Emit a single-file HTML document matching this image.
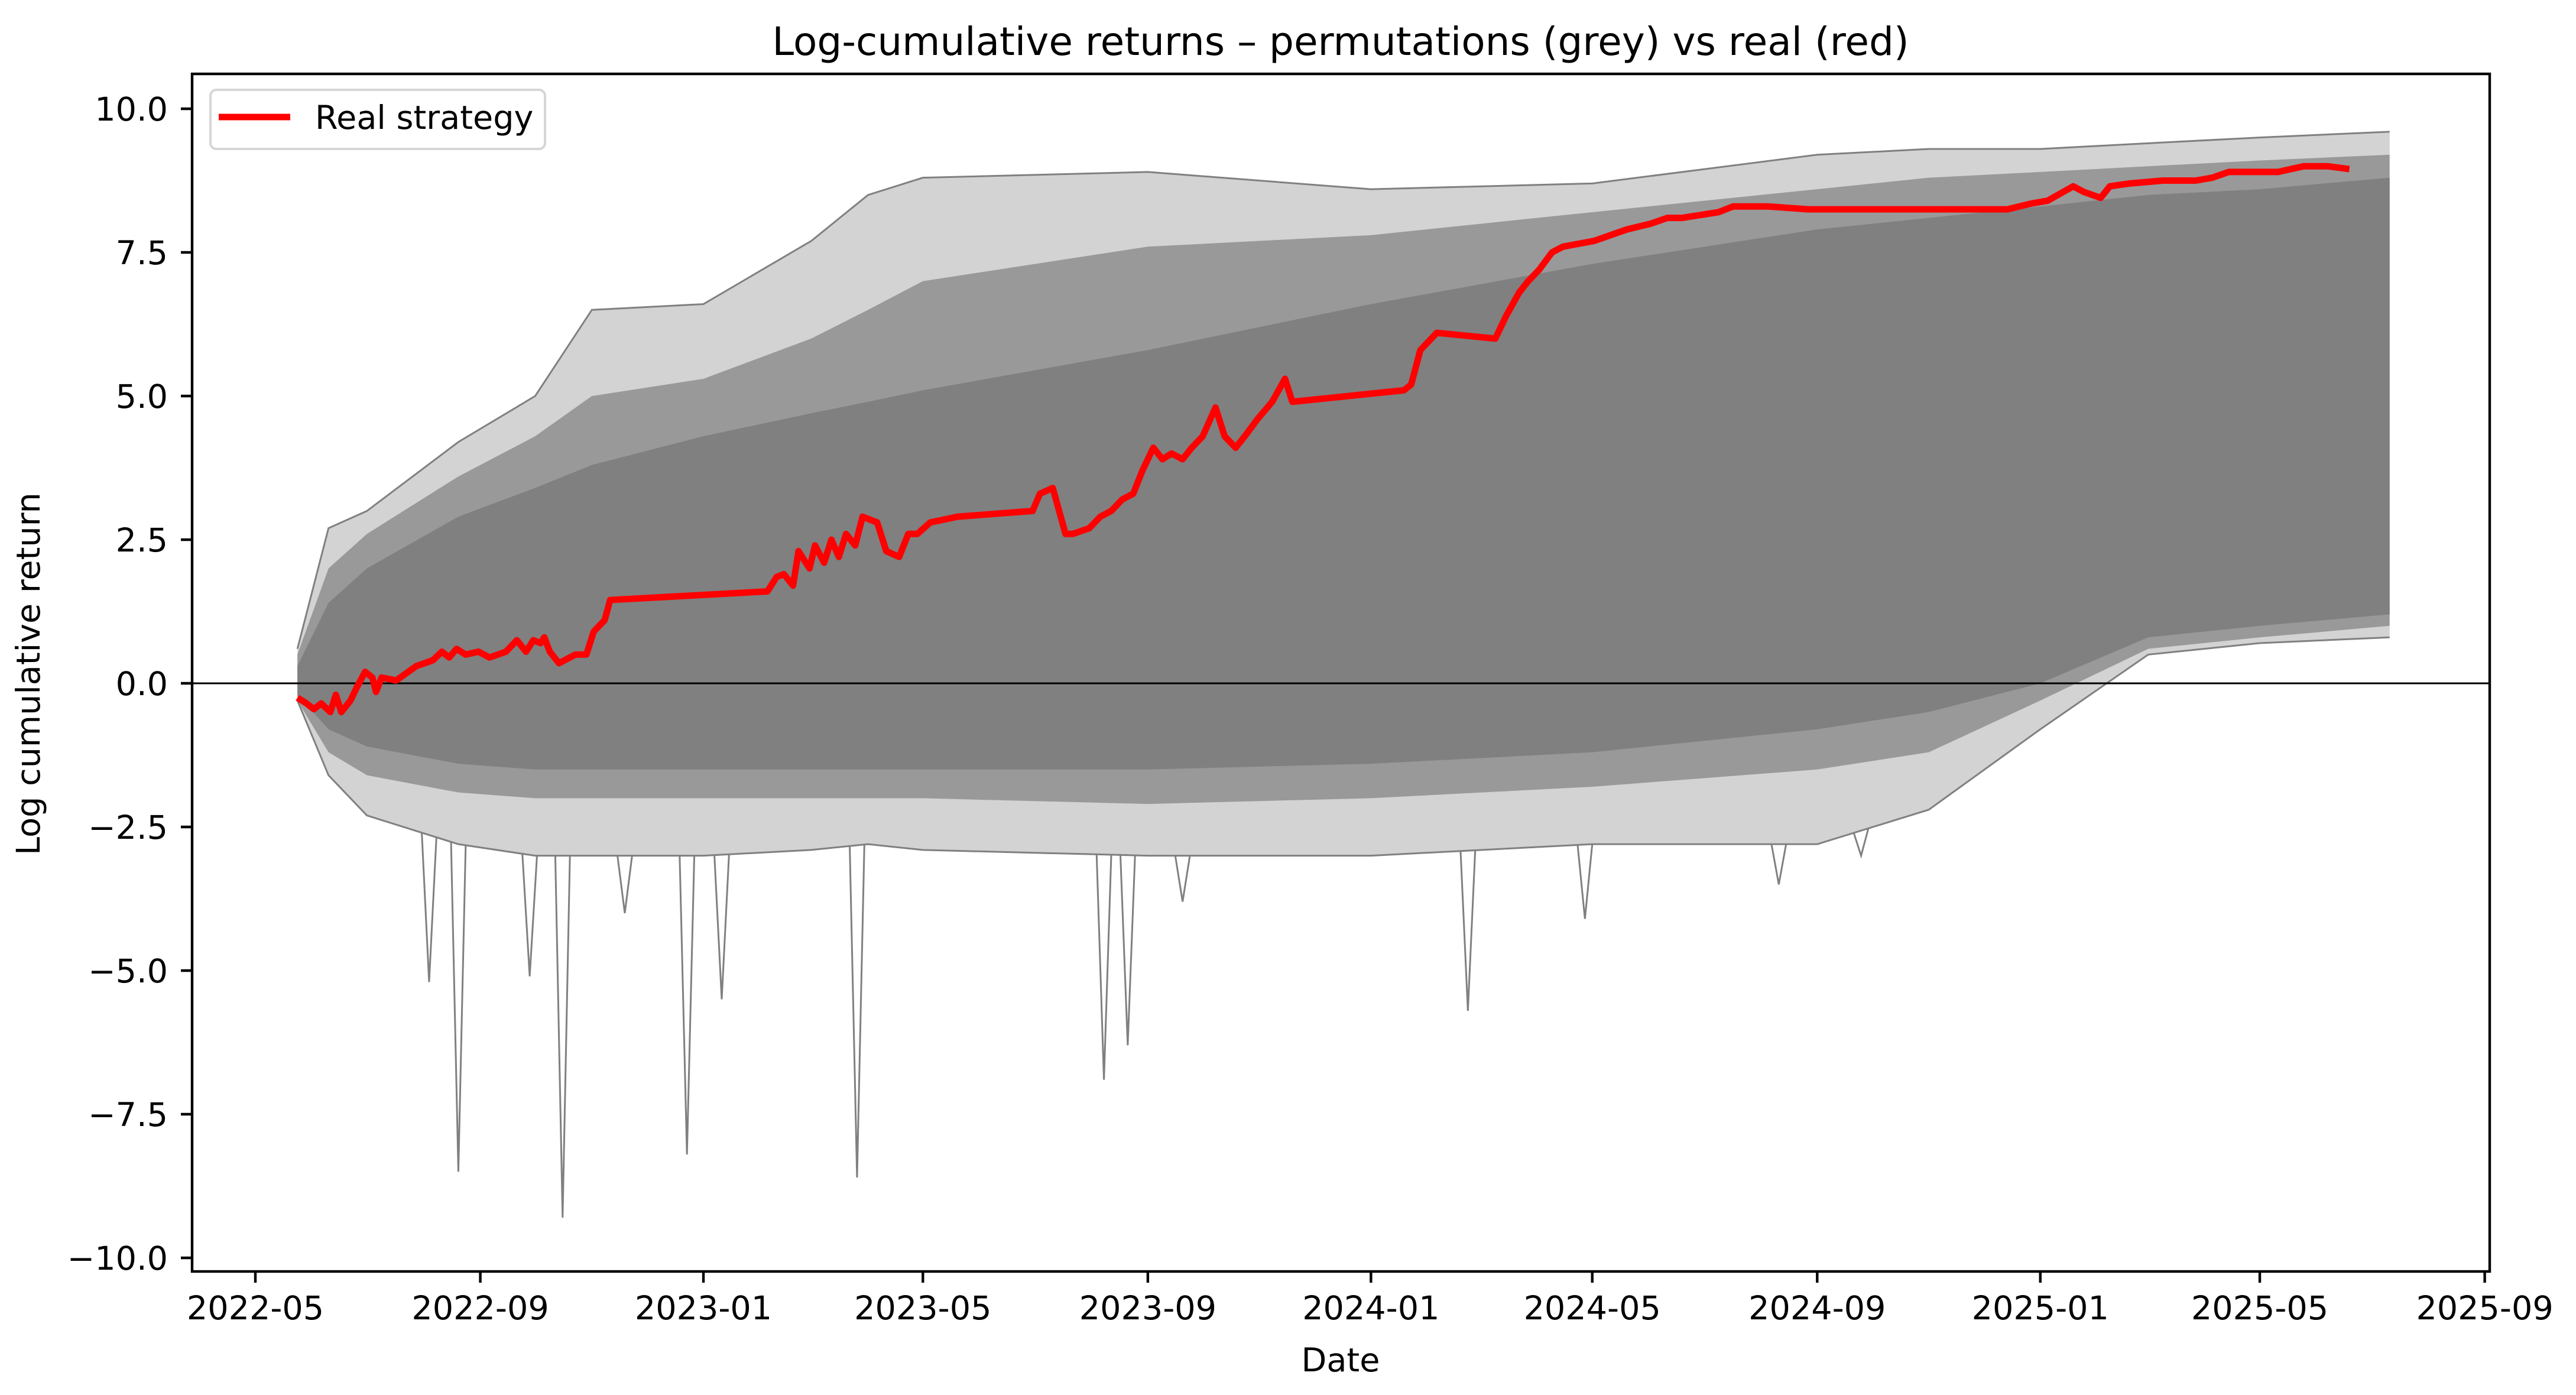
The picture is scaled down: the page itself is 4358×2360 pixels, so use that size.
<!DOCTYPE html>
<html><head><meta charset="utf-8"><style>
html,body{margin:0;padding:0;background:#fff;}
svg{display:block;font-family:"DejaVu Sans","Liberation Sans",sans-serif;}
</style></head><body>
<svg id="chart" width="4358" height="2360" viewBox="0 0 4358 2360" xmlns="http://www.w3.org/2000/svg">
<rect width="4358" height="2360" fill="#fff"/>
<text x="2268" y="93" font-size="66" text-anchor="middle">Log-cumulative returns – permutations (grey) vs real (red)</text>
<defs><clipPath id="clip"><rect x="325" y="125" width="3887" height="2026"/></clipPath></defs>
<g id="plot" clip-path="url(#clip)"></g>
<g id="axes"></g>
<text transform="translate(67,1140) rotate(-90)" font-size="55.6" text-anchor="middle">Log cumulative return</text>
<text x="2268" y="2320" font-size="55.6" text-anchor="middle">Date</text>
<g>
<rect x="356" y="152" width="566" height="100" rx="10" fill="#fff" fill-opacity="0.8" stroke="#d6d6d6" stroke-width="4"/>
<line x1="370" y1="198" x2="491" y2="198" stroke="#ff0000" stroke-width="11"/>
<text x="533" y="218" font-size="55.6">Real strategy</text>
</g>
</svg>
<script>
// ---- data ----
const envDays = [23,40,61,111,153,184,245,304,335,365,488,610,731,854,915,976,1035,1096,1167];
const outerUpper = [0.6,2.7,3.0,4.2,5.0,6.5,6.6,7.7,8.5,8.8,8.9,8.6,8.7,9.2,9.3,9.3,9.4,9.5,9.6];
const midUpper = [0.5,2.0,2.6,3.6,4.3,5.0,5.3,6.0,6.5,7.0,7.6,7.8,8.2,8.6,8.8,8.9,9.0,9.1,9.2];
const coreUpper = [0.3,1.4,2.0,2.9,3.4,3.8,4.3,4.7,4.9,5.1,5.8,6.6,7.3,7.9,8.1,8.3,8.5,8.6,8.8];
const coreLower = [-0.2,-0.8,-1.1,-1.4,-1.5,-1.5,-1.5,-1.5,-1.5,-1.5,-1.5,-1.4,-1.2,-0.8,-0.5,0.0,0.8,1.0,1.2];
const midLower = [-0.3,-1.2,-1.6,-1.9,-2.0,-2.0,-2.0,-2.0,-2.0,-2.0,-2.1,-2.0,-1.8,-1.5,-1.2,-0.3,0.6,0.8,1.0];
const outerLower = [-0.3,-1.6,-2.3,-2.8,-3.0,-3.0,-3.0,-2.9,-2.8,-2.9,-3.0,-3.0,-2.8,-2.8,-2.2,-0.8,0.5,0.7,0.8];
const spikeDays = [95,111,150,168,202,236,255,329,464,477,507,663,727,833,878];
const spikeValues = [-5.2,-8.5,-5.1,-9.3,-4.0,-8.2,-5.5,-8.6,-6.9,-6.3,-3.8,-5.7,-4.1,-3.5,-3.0];
const redDays = [23,28,32,36,41,44,47,52,55,60,64,66,69,77,88,97,102,106,110,115,122,128,137,143,148,152,156,158,161,166,175,181,185,191,194,280,285,289,294,297,303,306,311,315,319,323,328,332,340,345,352,357,362,369,384,425,429,436,443,447,456,462,468,474,480,485,491,496,501,507,512,518,525,530,536,541,548,556,563,567,628,632,637,646,678,684,691,696,702,709,715,732,750,763,772,780,800,808,817,827,849,926,958,971,980,994,1000,1009,1014,1025,1043,1061,1070,1079,1106,1120,1133,1145];
const redValues = [-0.25,-0.35,-0.45,-0.35,-0.5,-0.2,-0.5,-0.3,-0.1,0.2,0.1,-0.15,0.1,0.05,0.3,0.4,0.55,0.45,0.6,0.5,0.55,0.45,0.55,0.75,0.55,0.75,0.7,0.8,0.55,0.35,0.5,0.5,0.9,1.1,1.45,1.6,1.85,1.9,1.7,2.3,2.0,2.4,2.1,2.5,2.2,2.6,2.4,2.9,2.8,2.3,2.2,2.6,2.6,2.8,2.9,3.0,3.3,3.4,2.6,2.6,2.7,2.9,3.0,3.2,3.3,3.7,4.1,3.9,4.0,3.9,4.1,4.3,4.8,4.3,4.1,4.3,4.6,4.9,5.3,4.9,5.1,5.2,5.8,6.1,6.0,6.4,6.8,7.0,7.2,7.5,7.6,7.7,7.9,8.0,8.1,8.1,8.2,8.3,8.3,8.3,8.25,8.25,8.25,8.35,8.4,8.65,8.55,8.45,8.65,8.7,8.75,8.75,8.8,8.9,8.9,9.0,9.0,8.95];
const yTicks = [-10,-7.5,-5,-2.5,0,2.5,5,7.5,10];
const xTickLabels = ["2022-05","2022-09","2023-01","2023-05","2023-09","2024-01","2024-05","2024-09","2025-01","2025-05","2025-09"];

// ---- scales ----
const X0 = 432, PXDAY = 3.094, Y0 = 1156, PXUNIT = 97.2;
const base = Date.UTC(2022,4,1);
function xs(day){return X0 + day*PXDAY;}
function ys(v){return Y0 - v*PXUNIT;}
function dayOf(lbl){const [y,m]=lbl.split('-').map(Number);return (Date.UTC(y,m-1,1)-base)/86400000;}
function interp(d,arr){for(let i=0;i<envDays.length-1;i++){if(d<=envDays[i+1]){const t=(d-envDays[i])/(envDays[i+1]-envDays[i]);return arr[i]+t*(arr[i+1]-arr[i]);}}return arr[arr.length-1];}
const NS="http://www.w3.org/2000/svg";
const plot=document.getElementById('plot'), axes=document.getElementById('axes');
function mk(tag,attrs,parent){const e=document.createElementNS(NS,tag);for(const k in attrs)e.setAttribute(k,attrs[k]);parent.appendChild(e);return e;}
function band(up,lo){let p=envDays.map((d,i)=>xs(d)+','+ys(up[i]));for(let i=envDays.length-1;i>=0;i--)p.push(xs(envDays[i])+','+ys(lo[i]));return p.join(' ');}

const outer=mk('polygon',{points:band(outerUpper,outerLower),fill:'#808080','fill-opacity':'0.35'},plot);


const mid=mk('polygon',{points:band(midUpper,midLower),fill:'#808080','fill-opacity':'0.7'},plot);


const core=mk('polygon',{points:band(coreUpper,coreLower),fill:'#808080'},plot);


[outerUpper,outerLower].forEach((arr,k)=>{
  const l=mk('polyline',{points:envDays.map((d,i)=>xs(d)+','+ys(arr[i])).join(' '),fill:'none',stroke:'#808080','stroke-width':3},plot);
  
  
});
spikeDays.forEach((d,i)=>{
  const b1=interp(d-4,outerLower), b2=interp(d+4,outerLower);
  const s=mk('polyline',{points:xs(d-4)+','+ys(b1)+' '+xs(d)+','+ys(spikeValues[i])+' '+xs(d+4)+','+ys(b2),fill:'none',stroke:'#808080','stroke-width':3},plot);
  
  
});
const zl=mk('line',{x1:325,x2:4212,y1:ys(0),y2:ys(0),stroke:'#000','stroke-width':3},plot);


const red=mk('polyline',{points:redDays.map((d,i)=>xs(d)+','+ys(redValues[i])).join(' '),fill:'none',stroke:'#ff0000','stroke-width':11,'stroke-linejoin':'round'},plot);



// axes
const frame=mk('rect',{x:325,y:125,width:3887,height:2026,fill:'none',stroke:'#000','stroke-width':4.4},axes);


yTicks.forEach(v=>{
  const t=mk('line',{x1:306,x2:325,y1:ys(v),y2:ys(v),stroke:'#000','stroke-width':4.4},axes);
  
  
  const tx=mk('text',{x:284,y:ys(v)+20,'font-size':55.6,'text-anchor':'end'},axes);
  tx.textContent=(v<0?'\u2212':'')+Math.abs(v).toFixed(1);
  
  
});
xTickLabels.forEach(l=>{
  const x=xs(dayOf(l));
  const t=mk('line',{x1:x,x2:x,y1:2151,y2:2170,stroke:'#000','stroke-width':4.4},axes);
  
  
  const tx=mk('text',{x:x,y:2232,'font-size':55.6,'text-anchor':'middle'},axes);
  tx.textContent=l;
  
  
});
</script>
</body></html>
